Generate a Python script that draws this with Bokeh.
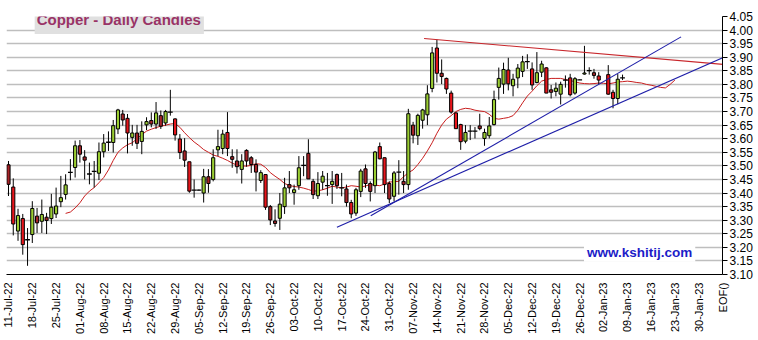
import math
import pandas as pd
from bokeh.plotting import figure
from bokeh.models import Range1d, FixedTicker, Label, PrintfTickFormatter, ColumnDataSource
from bokeh.embed import file_html
from bokeh.resources import INLINE

# ---------------- data ----------------
first_day = "2022-07-11"
last_day = "2023-01-06"
no_trade_days = ["2023-01-02"]

opens = [3.504, 3.422, 3.260, 3.306, 3.226, 3.247, 3.315, 3.296, 3.311, 3.306,
         3.323, 3.368, 3.395, 3.474, 3.494, 3.574, 3.533, 3.469, 3.478, 3.473,
         3.552, 3.585, 3.586, 3.636, 3.691, 3.675, 3.605, 3.621, 3.590, 3.651,
         3.667, 3.654, 3.685, 3.658, 3.697, 3.673, 3.599, 3.555, 3.515, 3.410,
         3.411, 3.400, 3.460, 3.450, 3.559, 3.564, 3.623, 3.534, 3.518, 3.487,
         3.557, 3.530, 3.505, 3.446, 3.468, 3.350, 3.297, 3.307, 3.350, 3.431,
         3.402, 3.427, 3.500, 3.546, 3.443, 3.390, 3.440, 3.426, 3.431, 3.468,
         3.418, 3.415, 3.365, 3.326, 3.406, 3.489, 3.435, 3.427, 3.571, 3.530,
         3.435, 3.388, 3.476, 3.443, 3.431, 3.650, 3.611, 3.668, 3.688, 3.785,
         3.934, 3.841, 3.822, 3.768, 3.695, 3.652, 3.591, 3.627, 3.628, 3.647,
         3.601, 3.611, 3.652, 3.789, 3.801, 3.853, 3.795, 3.824, 3.848, 3.882,
         3.857, 3.807, 3.845, 3.861, 3.780, 3.774, 3.764, 3.815, 3.824, 3.768,
         3.817, 3.838, 3.849, 3.843, 3.831, 3.836, 3.771, 3.748, 3.823]
highs = [3.518, 3.454, 3.342, 3.323, 3.271, 3.370, 3.345, 3.376, 3.327, 3.397,
         3.420, 3.463, 3.469, 3.525, 3.593, 3.595, 3.558, 3.512, 3.518, 3.586,
         3.617, 3.627, 3.669, 3.710, 3.706, 3.691, 3.651, 3.651, 3.664, 3.679,
         3.697, 3.735, 3.704, 3.706, 3.780, 3.675, 3.617, 3.602, 3.515, 3.450,
         3.413, 3.489, 3.488, 3.561, 3.633, 3.633, 3.698, 3.561, 3.561, 3.543,
         3.561, 3.536, 3.524, 3.484, 3.468, 3.356, 3.340, 3.400, 3.456, 3.481,
         3.431, 3.536, 3.536, 3.598, 3.452, 3.477, 3.481, 3.474, 3.481, 3.472,
         3.474, 3.431, 3.375, 3.419, 3.489, 3.505, 3.443, 3.555, 3.586, 3.530,
         3.443, 3.481, 3.521, 3.481, 3.710, 3.662, 3.692, 3.710, 3.797, 3.938,
         3.965, 3.892, 3.825, 3.777, 3.698, 3.655, 3.650, 3.650, 3.643, 3.692,
         3.637, 3.680, 3.777, 3.862, 3.880, 3.898, 3.839, 3.875, 3.905, 3.911,
         3.881, 3.919, 3.887, 3.863, 3.798, 3.807, 3.810, 3.833, 3.839, 3.827,
         3.818, 3.942, 3.863, 3.857, 3.845, 3.871, 3.780, 3.838, 3.836]
lows = [3.389, 3.244, 3.224, 3.173, 3.132, 3.216, 3.253, 3.253, 3.249, 3.286,
        3.308, 3.348, 3.376, 3.447, 3.457, 3.512, 3.450, 3.432, 3.420, 3.448,
        3.531, 3.555, 3.549, 3.617, 3.648, 3.546, 3.574, 3.562, 3.543, 3.632,
        3.642, 3.636, 3.636, 3.648, 3.685, 3.593, 3.525, 3.496, 3.401, 3.383,
        3.409, 3.365, 3.401, 3.443, 3.536, 3.543, 3.536, 3.493, 3.472, 3.435,
        3.497, 3.474, 3.406, 3.437, 3.338, 3.282, 3.276, 3.264, 3.323, 3.400,
        3.357, 3.412, 3.462, 3.452, 3.378, 3.378, 3.412, 3.390, 3.360, 3.415,
        3.388, 3.350, 3.307, 3.316, 3.385, 3.419, 3.369, 3.400, 3.524, 3.400,
        3.363, 3.369, 3.394, 3.400, 3.412, 3.583, 3.577, 3.637, 3.650, 3.771,
        3.807, 3.801, 3.765, 3.692, 3.637, 3.559, 3.583, 3.595, 3.601, 3.631,
        3.574, 3.601, 3.649, 3.744, 3.765, 3.778, 3.756, 3.786, 3.827, 3.857,
        3.780, 3.804, 3.827, 3.768, 3.748, 3.756, 3.726, 3.788, 3.756, 3.762,
        3.816, 3.836, 3.836, 3.821, 3.800, 3.762, 3.712, 3.727, 3.816]
closes = [3.432, 3.286, 3.317, 3.210, 3.228, 3.343, 3.290, 3.321, 3.299, 3.348,
          3.352, 3.383, 3.430, 3.476, 3.574, 3.543, 3.521, 3.470, 3.480, 3.552,
          3.584, 3.587, 3.648, 3.706, 3.669, 3.621, 3.621, 3.583, 3.627, 3.663,
          3.654, 3.695, 3.646, 3.700, 3.698, 3.614, 3.549, 3.521, 3.407, 3.411,
          3.411, 3.460, 3.435, 3.530, 3.571, 3.617, 3.564, 3.524, 3.497, 3.518,
          3.518, 3.505, 3.477, 3.475, 3.348, 3.301, 3.288, 3.359, 3.419, 3.419,
          3.412, 3.493, 3.502, 3.452, 3.394, 3.435, 3.462, 3.427, 3.443, 3.427,
          3.419, 3.365, 3.323, 3.412, 3.481, 3.435, 3.406, 3.551, 3.526, 3.431,
          3.378, 3.474, 3.477, 3.431, 3.692, 3.613, 3.686, 3.706, 3.765, 3.916,
          3.841, 3.829, 3.783, 3.698, 3.637, 3.589, 3.623, 3.628, 3.628, 3.637,
          3.623, 3.647, 3.744, 3.822, 3.855, 3.802, 3.819, 3.860, 3.883, 3.884,
          3.798, 3.843, 3.875, 3.768, 3.771, 3.786, 3.800, 3.816, 3.762, 3.821,
          3.817, 3.842, 3.851, 3.833, 3.816, 3.764, 3.748, 3.819, 3.824]
# candles (order number) drawn in the darker red
dark_red_candles = [0, 6, 8, 15, 16, 24, 27, 30, 32, 37, 42, 47, 48, 50, 51, 52, 55,
                    56, 59, 63, 64, 69, 71, 75, 76, 80, 83, 85, 91, 99, 114, 123]

# moving average line (starts 27-Jul-22, runs past the last candle)
ma_first_day = "2022-07-27"
ma_values = [3.325, 3.330, 3.345, 3.364, 3.389, 3.407, 3.420, 3.438, 3.457, 3.485,
             3.520, 3.550, 3.566, 3.578, 3.585, 3.600, 3.615, 3.628, 3.635, 3.641,
             3.646, 3.650, 3.654, 3.656, 3.642, 3.622, 3.604, 3.588, 3.575, 3.560,
             3.550, 3.540, 3.535, 3.528, 3.520, 3.510, 3.503, 3.500, 3.499, 3.502,
             3.508, 3.506, 3.494, 3.475, 3.462, 3.450, 3.435, 3.428, 3.424, 3.422,
             3.418, 3.413, 3.407, 3.408, 3.412, 3.418, 3.425, 3.422, 3.419, 3.422,
             3.427, 3.425, 3.422, 3.426, 3.431, 3.429, 3.427, 3.433, 3.440, 3.442,
             3.443, 3.460, 3.475, 3.485, 3.505, 3.528, 3.555, 3.585, 3.620, 3.650,
             3.672, 3.685, 3.700, 3.708, 3.712, 3.710, 3.705, 3.702, 3.700, 3.690,
             3.675, 3.672, 3.675, 3.678, 3.685, 3.705, 3.732, 3.757, 3.775, 3.795,
             3.812, 3.818, 3.822, 3.822, 3.822, 3.818, 3.814, 3.810, 3.805, 3.803,
             3.802, 3.803, 3.805, 3.804, 3.802, 3.805, 3.809, 3.810, 3.812, 3.810,
             3.807, 3.805, 3.800, 3.797, 3.793, 3.789, 3.787, 3.800, 3.816]

# trend lines: start/end in trading days from 11-Jul-22, and price
trend_day0 = [87.3, 69.0, 76.1]
trend_px0 = [3.969, 3.274, 3.316]
trend_day1 = [151.8, 151.8, 141.3]
trend_px1 = [3.871, 3.912, 3.975]
trend_colors = ["#C8262B", "#1E1EA8", "#1E1EA8"]

week_labels = ["11-Jul-22", "18-Jul-22", "25-Jul-22", "01-Aug-22", "08-Aug-22",
               "15-Aug-22", "22-Aug-22", "29-Aug-22", "05-Sep-22", "12-Sep-22",
               "19-Sep-22", "26-Sep-22", "03-Oct-22", "10-Oct-22", "17-Oct-22",
               "24-Oct-22", "31-Oct-22", "07-Nov-22", "14-Nov-22", "21-Nov-22",
               "28-Nov-22", "05-Dec-22", "12-Dec-22", "19-Dec-22", "26-Dec-22",
               "02-Jan-23", "09-Jan-23", "16-Jan-23", "23-Jan-23", "30-Jan-23"]
end_label = "EOF()"
y_ticks = [3.10, 3.15, 3.20, 3.25, 3.30, 3.35, 3.40, 3.45, 3.50, 3.55,
           3.60, 3.65, 3.70, 3.75, 3.80, 3.85, 3.90, 3.95, 4.00, 4.05]

# ---------------- positions on a trading-day axis ----------------
calendar = pd.bdate_range(first_day, periods=151)
candle_dates = [d for d in pd.bdate_range(first_day, last_day)
                if d not in pd.to_datetime(no_trade_days)]
xpos = list(calendar.get_indexer(candle_dates))

GREEN, RED, DARK = "#9ACD32", "#E8161C", "#A82428"
body_x, body_top, body_bot, body_col = [], [], [], []
doji_x, doji_y = [], []
for k, (x, o, c) in enumerate(zip(xpos, opens, closes)):
    if abs(c - o) < 0.004:
        doji_x.append(x)
        doji_y.append(c)
        continue
    body_x.append(x)
    body_top.append(max(o, c))
    body_bot.append(min(o, c))
    if c > o:
        body_col.append(GREEN)
    elif k in dark_red_candles:
        body_col.append(DARK)
    else:
        body_col.append(RED)

ma_start = calendar.get_loc(pd.Timestamp(ma_first_day))
ma_x = list(range(ma_start, ma_start + len(ma_values)))

tick_pos = [int(calendar.get_loc(pd.to_datetime(s, format="%d-%b-%y"))) for s in week_labels]
end_pos = len(calendar) - 1
tick_pos.append(end_pos)
overrides = {p_: lab for p_, lab in zip(tick_pos, week_labels + [end_label])}

# ---------------- figure ----------------
FONT = "Liberation Sans"
p = figure(width=758, height=340, x_range=Range1d(-0.42, end_pos),
           y_range=Range1d(3.10, 4.05), y_axis_location="right",
           toolbar_location=None, output_backend="svg",
           min_border_left=6, min_border_right=36, min_border_top=16, min_border_bottom=66)
p.outline_line_color = None
p.background_fill_color = "white"
p.border_fill_color = "white"

p.xgrid.visible = False
p.ygrid.ticker = FixedTicker(ticks=y_ticks)
p.ygrid.grid_line_color = "#BEBEBE"
p.ygrid.grid_line_width = 1.5

ya = p.yaxis[0]
ya.ticker = FixedTicker(ticks=y_ticks)
ya.formatter = PrintfTickFormatter(format="%.2f")
ya.axis_line_color = "black"
ya.major_tick_line_color = "black"
ya.major_tick_out = 5
ya.major_tick_in = 0
ya.minor_tick_line_color = None
ya.major_label_standoff = 2
ya.major_label_text_font = FONT
ya.major_label_text_font_size = "12px"
ya.major_label_text_color = "black"

xa = p.xaxis[0]
xa.ticker = FixedTicker(ticks=tick_pos)
xa.major_label_overrides = overrides
xa.major_label_orientation = math.pi / 2
xa.axis_line_color = "black"
xa.major_tick_line_color = None
xa.major_tick_out = 0
xa.major_tick_in = 0
xa.minor_tick_line_color = None
xa.major_label_standoff = 8
xa.major_label_text_font = FONT
xa.major_label_text_font_size = "11px"
xa.major_label_text_color = "black"

# moving average
p.line(ma_x, ma_values, line_color="#C81E1E", line_width=1)

# candles
p.segment(x0=xpos, y0=lows, x1=xpos, y1=highs, line_color="black", line_width=1)
p.vbar(x=body_x, width=0.66, top=body_top, bottom=body_bot,
       fill_color=body_col, line_color="black", line_width=1)
p.segment(x0=[x - 0.5 for x in doji_x], y0=doji_y, x1=[x + 0.5 for x in doji_x], y1=doji_y,
          line_color="black", line_width=1.3)

# trend lines
p.segment(x0=trend_day0, y0=trend_px0, x1=trend_day1, y1=trend_px1,
          line_color=trend_colors, line_width=1.1)

# title box
p.add_layout(Label(x=5.5, y=4.037, x_units="data", y_units="data",
                   text="Copper - Daily Candles", text_font=FONT, text_font_size="15px",
                   text_font_style="bold", text_color="#993366",
                   text_align="left", text_baseline="middle",
                   background_fill_color="#E0E0E0",
                   padding=dict(left=2, right=3, top=5, bottom=6)))
# web address
p.add_layout(Label(x=120.9, y=3.182, x_units="data", y_units="data",
                   text="www.kshitij.com", text_font=FONT, text_font_size="13.5px",
                   text_font_style="bold", text_color="#1C1CC8",
                   text_align="left", text_baseline="middle",
                   background_fill_color="white",
                   padding=dict(left=3, right=3, top=2, bottom=2)))

open("out.html", "w").write(file_html(p, INLINE))
